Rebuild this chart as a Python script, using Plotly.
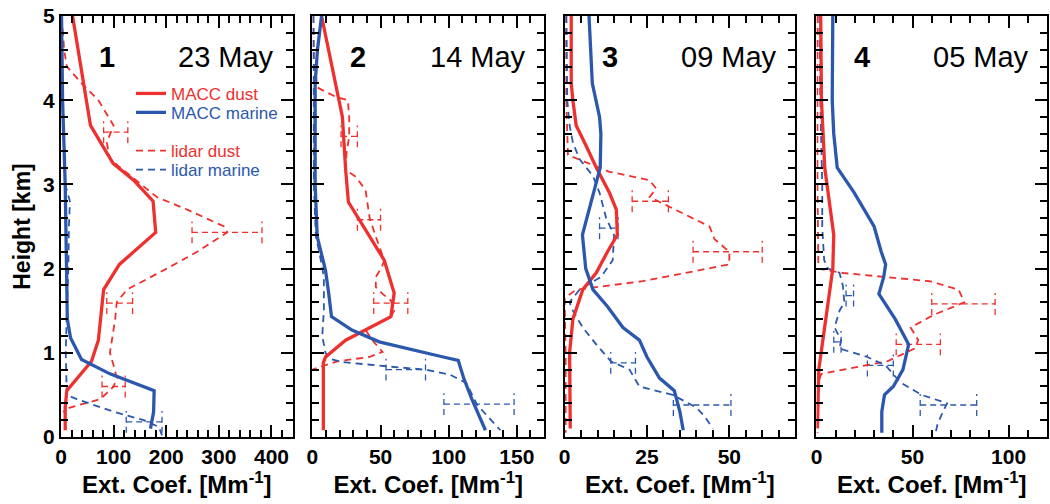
import plotly.graph_objects as go

RED = "#EE302E"
BLUE = "#2B58AD"
FONT = "Liberation Sans, Arial, sans-serif"

# ---------------- Panel 1 : 23 May ----------------
p1_macc_dust_h = [5.0, 3.7, 3.25, 3.05, 2.8, 2.43, 2.05, 1.75, 1.15, 0.9, 0.55, 0.35, 0.08]
p1_macc_dust_v = [22, 56, 99, 138, 175, 180, 111, 81, 71, 58, 11, 8, 8]
p1_macc_marine_h = [5.0, 4.0, 3.0, 2.0, 1.4, 1.18, 0.92, 0.75, 0.55, 0.3, 0.1]
p1_macc_marine_v = [1, 3, 8, 11, 12, 18, 39, 93, 177, 176, 170]
p1_lidar_dust_h = [4.85, 4.6, 4.4, 4.2, 4.0, 3.7, 3.5, 3.3, 2.85, 2.7, 2.5, 2.43, 2.2, 2.0, 1.75,
                   1.6, 1.4, 1.0, 0.85, 0.7, 0.6, 0.45, 0.35, 0.3]
p1_lidar_dust_v = [3, 6, 11, 39, 71, 100, 87, 93, 182, 240, 310, 316, 259, 201, 125,
                   106, 103, 93, 100, 106, 100, 75, 17, 4]
p1_lidar_marine_h = [5.0, 4.0, 3.0, 2.8, 2.5, 2.0, 1.5, 1.0, 0.5, 0.45, 0.3, 0.2, 0.12, 0.02]
p1_lidar_marine_v = [1, 3, 8, 17, 15, 14, 11, 9, 11, 30, 100, 157, 186, 192]
p1_err_dust_h = [3.62, 2.43, 1.59, 0.6]
p1_err_dust_lo = [81, 249, 87, 78]
p1_err_dust_hi = [127, 382, 136, 122]
p1_err_marine_h = [0.18]
p1_err_marine_lo = [124]
p1_err_marine_hi = [192]

# ---------------- Panel 2 : 14 May ----------------
p2_macc_dust_h = [5.0, 4.2, 3.8, 3.17, 2.79, 2.1, 1.71, 1.43, 1.15, 0.95, 0.88, 0.6, 0.08]
p2_macc_dust_v = [6.7, 17, 22, 24.4, 26.4, 52.7, 60, 57.6, 24.4, 9.6, 8, 8, 8]
p2_macc_marine_h = [5.0, 4.6, 4.2, 3.0, 2.38, 1.98, 1.7, 1.43, 1.27, 1.13, 0.95, 0.91, 0.7, 0.45, 0.08]
p2_macc_marine_v = [6.7, 3.7, 2, 2, 3.5, 9.6, 12, 14, 29, 49, 96, 107, 111, 117, 127]
p2_lidar_dust_h = [5.0, 4.5, 4.15, 4.04, 4.0, 3.8, 3.57, 3.37, 3.17, 3.09, 2.93, 2.8, 2.6, 2.38,
                   2.1, 2.02, 1.9, 1.78, 1.7, 1.62, 1.5, 1.43, 1.27, 1.13, 1.01, 0.95, 0.9, 0.83, 0.8]
p2_lidar_dust_v = [0.5, 1, 3.7, 17, 26, 27, 27, 25, 24.5, 32, 39, 40, 42, 46.5,
                   52.7, 51, 46.5, 46.5, 51.5, 57.6, 60, 57.6, 39, 45, 51.5, 41.5, 19, 5, 0]
p2_lidar_marine_h = [5.0, 3.0, 2.38, 2.2, 1.9, 1.5, 1.2, 1.0, 0.93, 0.89, 0.84, 0.8, 0.74,
                     0.64, 0.38, 0.16, 0.08]
p2_lidar_marine_v = [0.8, 1, 2.5, 5, 8.4, 8.4, 7.2, 9.6, 12, 22, 54, 83, 101,
                     113, 121, 133, 138]
p2_err_dust_h = [3.57, 2.58, 1.59]
p2_err_dust_lo = [21, 33, 45]
p2_err_dust_hi = [33, 50, 70]
p2_err_marine_h = [0.8, 0.39]
p2_err_marine_lo = [54, 96.5]
p2_err_marine_hi = [83, 148]

# ---------------- Panel 3 : 09 May ----------------
p3_macc_dust_h = [5.0, 4.2, 4.0, 3.7, 3.5, 3.2, 2.9, 2.7, 2.4, 2.2, 1.95, 1.75, 1.4, 1.0, 0.1]
p3_macc_dust_v = [2, 2, 2.5, 3.5, 6, 9.6, 13.6, 15.7, 16, 13, 9.6, 5.5, 2.5, 1.5, 1.7]
p3_macc_marine_h = [5.0, 4.2, 3.8, 3.6, 3.2, 2.8, 2.4, 2.0, 1.75, 1.55, 1.3, 1.15, 0.95, 0.7,
                    0.55, 0.3, 0.08]
p3_macc_marine_v = [7.4, 8.4, 10.6, 11, 10.8, 8, 5.4, 6.4, 8.6, 13, 17.7, 22.7, 25, 28.8,
                    33.3, 35, 36]
p3_lidar_dust_h = [5.0, 4.0, 3.35, 3.2, 3.15, 3.05, 2.95, 2.85, 2.65, 2.5, 2.35, 2.2, 2.05,
                   1.85, 1.75, 1.65, 1.0, 0.05]
p3_lidar_dust_v = [0.5, 0.5, 1, 10.6, 13.6, 25.8, 27.8, 25.8, 36, 44, 45.5, 50, 50,
                   23.7, 3.5, 0, 0.3, 0.3]
p3_lidar_marine_h = [5.0, 4.0, 3.7, 3.5, 3.3, 3.1, 2.9, 2.6, 2.4, 2.1, 1.9, 1.75, 1.6, 1.5,
                     1.3, 1.1, 0.9, 0.8, 0.6, 0.5, 0.35, 0.25, 0.1]
p3_lidar_marine_v = [0.5, 0.8, 1.5, 2.5, 4.5, 8.6, 10.6, 12.6, 15, 14.6, 11, 4.5, 1.5, 2.5,
                     5.5, 9.6, 14, 19.7, 22.7, 32.8, 40, 42.4, 45]
p3_err_dust_h = [2.8, 2.2]
p3_err_dust_lo = [20.5, 39]
p3_err_dust_hi = [31.5, 60]
p3_err_marine_h = [2.48, 0.88, 0.38]
p3_err_marine_lo = [10.6, 14, 33]
p3_err_marine_hi = [16.2, 21.5, 50.5]

# ---------------- Panel 4 : 05 May ----------------
p4_macc_dust_h = [5.0, 4.0, 3.2, 2.8, 2.4, 2.0, 1.6, 1.2, 0.8, 0.1]
p4_macc_dust_v = [2.2, 2.6, 4.3, 6.8, 9, 8.5, 6, 3.4, 1.2, 0.5]
p4_macc_marine_h = [5.0, 4.0, 3.6, 3.2, 2.9, 2.5, 2.2, 2.05, 1.9, 1.7, 1.4, 1.1, 0.8, 0.6,
                    0.5, 0.3, 0.05]
p4_macc_marine_v = [8.5, 8.2, 9, 10.8, 19.7, 30, 33.7, 36, 35, 32.5, 41, 48, 45, 40,
                    35.4, 34, 34]
p4_lidar_dust_h = [5.0, 3.0, 2.0, 1.95, 1.85, 1.75, 1.6, 1.45, 1.3, 1.15, 1.05, 0.9, 0.75,
                   0.65, 0.05]
p4_lidar_dust_v = [0.5, 0.5, 1, 12.8, 59, 74, 77, 61, 49, 53, 51, 37, 2.5, 1, 0.5]
p4_lidar_marine_h = [5.0, 4.0, 3.0, 2.5, 2.1, 2.0, 1.95, 1.8, 1.6, 1.5, 1.3, 1.15, 1.05, 0.95,
                     0.85, 0.65, 0.5, 0.4, 0.3, 0.15, 0.05]
p4_lidar_marine_v = [1.5, 2, 3, 3, 4, 6, 12, 13.7, 14.5, 12, 9.4, 12.8, 12, 26.5,
                     36, 43.6, 54.7, 68, 65.8, 63, 62]
p4_err_dust_h = [1.58, 1.1]
p4_err_dust_lo = [60, 41.5]
p4_err_dust_hi = [93, 64.5]
p4_err_marine_h = [1.68, 1.13, 0.85, 0.38]
p4_err_marine_lo = [15.4, 9, 26.5, 54]
p4_err_marine_hi = [19.3, 12.8, 40, 83.4]

panel_titles = ["1", "2", "3", "4"]
panel_dates = ["23 May", "14 May", "09 May", "05 May"]
x_ranges = [[0, 440], [0, 170], [0, 70], [0, 120]]
x_dticks = [100, 50, 25, 50]
x_minor = [20, 10, 5, 10]
legend_labels = ["MACC dust", "MACC marine", "lidar dust", "lidar marine"]

panels = [
    (p1_macc_dust_h, p1_macc_dust_v, p1_macc_marine_h, p1_macc_marine_v,
     p1_lidar_dust_h, p1_lidar_dust_v, p1_lidar_marine_h, p1_lidar_marine_v,
     (p1_err_dust_h, p1_err_dust_lo, p1_err_dust_hi),
     (p1_err_marine_h, p1_err_marine_lo, p1_err_marine_hi)),
    (p2_macc_dust_h, p2_macc_dust_v, p2_macc_marine_h, p2_macc_marine_v,
     p2_lidar_dust_h, p2_lidar_dust_v, p2_lidar_marine_h, p2_lidar_marine_v,
     (p2_err_dust_h, p2_err_dust_lo, p2_err_dust_hi),
     (p2_err_marine_h, p2_err_marine_lo, p2_err_marine_hi)),
    (p3_macc_dust_h, p3_macc_dust_v, p3_macc_marine_h, p3_macc_marine_v,
     p3_lidar_dust_h, p3_lidar_dust_v, p3_lidar_marine_h, p3_lidar_marine_v,
     (p3_err_dust_h, p3_err_dust_lo, p3_err_dust_hi),
     (p3_err_marine_h, p3_err_marine_lo, p3_err_marine_hi)),
    (p4_macc_dust_h, p4_macc_dust_v, p4_macc_marine_h, p4_macc_marine_v,
     p4_lidar_dust_h, p4_lidar_dust_v, p4_lidar_marine_h, p4_lidar_marine_v,
     (p4_err_dust_h, p4_err_dust_lo, p4_err_dust_hi),
     (p4_err_marine_h, p4_err_marine_lo, p4_err_marine_hi)),
]

CAP = 0.13  # half-height of error-bar caps, km


def err_segments(hs, los, his):
    xs, ys = [], []
    for h, lo, hi in zip(hs, los, his):
        xs += [lo, hi, None, lo, lo, None, hi, hi, None]
        ys += [h, h, None, h - CAP, h + CAP, None, h - CAP, h + CAP, None]
    return xs, ys


fig = go.Figure()

domains = [[0.0, 0.2348], [0.2550, 0.4899], [0.5108, 0.7446], [0.7662, 1.0]]
legend_y = [0.815, 0.77, 0.679, 0.634]

for i, p in enumerate(panels):
    (md_h, md_v, mm_h, mm_v, ld_h, ld_v, lm_h, lm_v, errd, errm) = p
    xa = "x" if i == 0 else f"x{i+1}"
    ya = "y" if i == 0 else f"y{i+1}"
    show = (i == 0)
    ex, ey = err_segments(*errd)
    fig.add_trace(go.Scatter(x=ex, y=ey, mode="lines", xaxis=xa, yaxis=ya, showlegend=False,
                             line=dict(color=RED, width=1.3, dash="6px,4px"), hoverinfo="skip"))
    ex, ey = err_segments(*errm)
    fig.add_trace(go.Scatter(x=ex, y=ey, mode="lines", xaxis=xa, yaxis=ya, showlegend=False,
                             line=dict(color=BLUE, width=1.3, dash="6px,4px"), hoverinfo="skip"))
    fig.add_trace(go.Scatter(x=ld_v, y=ld_h, mode="lines", xaxis=xa, yaxis=ya,
                             name=f'<span style="color:{RED}">{legend_labels[2]}</span>',
                             legend="legend3", showlegend=show,
                             line=dict(color=RED, width=1.8, dash="7px,5px")))
    fig.add_trace(go.Scatter(x=lm_v, y=lm_h, mode="lines", xaxis=xa, yaxis=ya,
                             name=f'<span style="color:{BLUE}">{legend_labels[3]}</span>',
                             legend="legend4", showlegend=show,
                             line=dict(color=BLUE, width=1.8, dash="7px,5px")))
    fig.add_trace(go.Scatter(x=md_v, y=md_h, mode="lines", xaxis=xa, yaxis=ya,
                             name=f'<span style="color:{RED}">{legend_labels[0]}</span>',
                             legend="legend", showlegend=show,
                             line=dict(color=RED, width=3.3)))
    fig.add_trace(go.Scatter(x=mm_v, y=mm_h, mode="lines", xaxis=xa, yaxis=ya,
                             name=f'<span style="color:{BLUE}">{legend_labels[1]}</span>',
                             legend="legend2", showlegend=show,
                             line=dict(color=BLUE, width=3.3)))

    axis_common = dict(showline=True, linecolor="black", linewidth=2, mirror="ticks",
                       ticks="inside", ticklen=12, tickwidth=1.5, tickcolor="black",
                       showgrid=False, zeroline=False,
                       tickfont=dict(family=FONT, size=21, color="black", weight="bold"))
    xkey = "xaxis" if i == 0 else f"xaxis{i+1}"
    ykey = "yaxis" if i == 0 else f"yaxis{i+1}"
    yaxis_cfg = dict(axis_common, domain=[0, 1], anchor=xa, range=[0, 5], dtick=1, tick0=0,
                     showticklabels=(i == 0),
                     minor=dict(ticks="inside", ticklen=7, dtick=0.2, tickwidth=1.5,
                                tickcolor="black", showgrid=False))
    if i == 0:
        yaxis_cfg["title"] = dict(text="Height [km]", standoff=6,
                                  font=dict(family=FONT, size=23, color="black", weight="bold"))
    fig.update_layout({
        xkey: dict(axis_common, domain=domains[i], anchor=ya, range=x_ranges[i],
                   dtick=x_dticks[i], tick0=0,
                   minor=dict(ticks="inside", ticklen=7, dtick=x_minor[i], tickwidth=1.5,
                              tickcolor="black", showgrid=False),
                   title=dict(text="Ext. Coef. [Mm<sup>-1</sup>]", standoff=9,
                              font=dict(family=FONT, size=24, color="black", weight="bold"))),
        ykey: yaxis_cfg,
    })
    fig.add_annotation(text=f"<b>{panel_titles[i]}</b>", xref=f"{xa} domain", yref=f"{ya} domain",
                       x=0.198, y=0.903, xanchor="center", yanchor="middle", showarrow=False,
                       font=dict(family=FONT, size=29, color="black"))
    fig.add_annotation(text=panel_dates[i], xref=f"{xa} domain", yref=f"{ya} domain",
                       x=0.93, y=0.903, xanchor="right", yanchor="middle", showarrow=False,
                       font=dict(family=FONT, size=29, color="black"))

leg_common = dict(x=0.071, xanchor="left", yanchor="middle", bgcolor="rgba(0,0,0,0)",
                  borderwidth=0, itemwidth=30, font=dict(family=FONT, size=17))
fig.update_layout(
    width=1050, height=504,
    margin=dict(l=61, r=1, t=16, b=67),
    paper_bgcolor="white", plot_bgcolor="white",
    font=dict(family=FONT, color="black"),
    legend=dict(leg_common, y=legend_y[0]),
    legend2=dict(leg_common, y=legend_y[1]),
    legend3=dict(leg_common, y=legend_y[2]),
    legend4=dict(leg_common, y=legend_y[3]),
)

fig.write_html("out.html", config={"displayModeBar": False},
               post_script="document.body.style.margin='0';document.body.style.overflow='hidden';")
